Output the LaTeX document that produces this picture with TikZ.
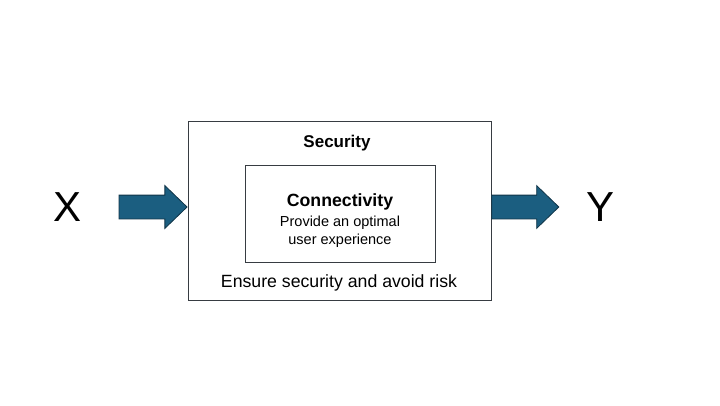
\documentclass[tikz,border=0pt]{standalone}
\usepackage{fontspec}
\setmainfont{Liberation Sans}
\usetikzlibrary{shapes.arrows,positioning}
\definecolor{arrowteal}{RGB}{27, 94, 128}
\definecolor{arrowedge}{RGB}{16, 52, 72}
\definecolor{boxline}{RGB}{55, 60, 66}
\begin{document}
\begin{tikzpicture}[x=1pt, y=1pt,
    framebox/.style={draw=boxline, line width=0.8pt, rectangle},
    blockarrow/.style={single arrow, draw=arrowedge, line width=0.8pt, fill=arrowteal, inner xsep=0pt, inner ysep=11.5pt, single arrow head extend=9.5pt, single arrow tip angle=88, minimum height=68pt},
    bigletter/.style={font=\fontsize{42}{42}\selectfont}]
    \useasboundingbox (0,0) rectangle (720,405);
    \node[framebox, minimum width=303pt, minimum height=179pt] (outer) at (339.5,194.5) {};
    \node[framebox, minimum width=190pt, minimum height=97pt] (inner) at (340,191.5) {};
    \node[font=\fontsize{17}{17}\selectfont\bfseries] (security) at (337,262) {Security};
    \node[font=\fontsize{17.7}{17.7}\selectfont\bfseries] (connect) at (340,203) {Connectivity};
    \node[font=\fontsize{14.5}{18}\selectfont, align=center] (provide) at (340,173) {Provide an optimal\\user experience};
    \node[font=\fontsize{17.7}{17.7}\selectfont] (ensure) at (339,122.5) {Ensure security and avoid risk};
    \node[bigletter] (xin) at (68,198) {X};
    \node[bigletter] (yout) at (600,198) {Y};
    % block arrows in and out of the security box
    \node[blockarrow, anchor=east] (inarrow) at (outer.west |- xin) {};
    \node[blockarrow, anchor=west, minimum height=67pt] (outarrow) at (outer.east |- yout) {};
\end{tikzpicture}
\end{document}
